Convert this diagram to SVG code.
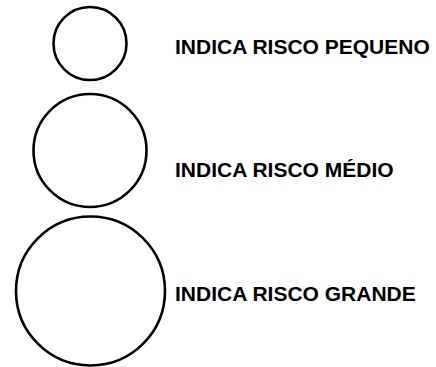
<svg xmlns="http://www.w3.org/2000/svg" width="436" height="367" viewBox="0 0 436 367">
<style>
.c{fill:none;stroke:#000;stroke-width:2.6}
.t{font-family:"Liberation Sans",Arial,sans-serif;font-weight:bold;font-size:21px;fill:#000}
</style>
<rect width="436" height="367" fill="#fff"/>
<g id="risco-pequeno">
<circle class="c" cx="90" cy="43.5" r="36.5"/>
<text class="t" x="175" y="54">INDICA RISCO PEQUENO</text>
</g>
<g id="risco-medio">
<circle class="c" cx="90" cy="150.5" r="56.5"/>
<text class="t" x="175" y="177">INDICA RISCO MÉDIO</text>
</g>
<g id="risco-grande">
<circle class="c" cx="90.5" cy="291" r="74.5"/>
<text class="t" x="175" y="301">INDICA RISCO GRANDE</text>
</g>
<g id="connectors"/>
</svg>
